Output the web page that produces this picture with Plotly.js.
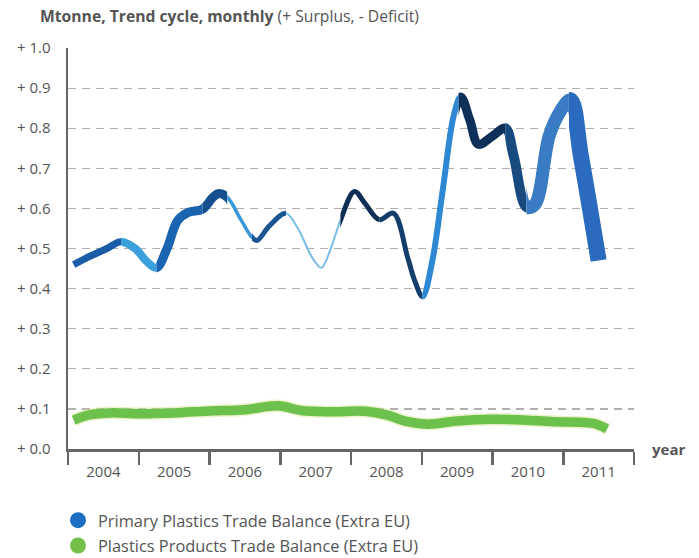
<!DOCTYPE html>
<html>
<head>
<meta charset="utf-8">
<script src="https://cdn.plot.ly/plotly-3.0.1.min.js"></script>
<style>
  html, body { margin: 0; padding: 0; background: #ffffff; }
  #chart { width: 699px; height: 558px; }
</style>
</head>
<body>
<div id="chart"></div>
<script>
// ---- Data ----
const years = ['2004', '2005', '2006', '2007', '2008', '2009', '2010', '2011'];
const yTickValues = [0, 0.1, 0.2, 0.3, 0.4, 0.5, 0.6, 0.7, 0.8, 0.9, 1.0];
const yTickLabels = ['+ 0.0', '+ 0.1', '+ 0.2', '+ 0.3', '+ 0.4', '+ 0.5', '+ 0.6', '+ 0.7', '+ 0.8', '+ 0.9', '+ 1.0'];

const primaryName = 'Primary Plastics Trade Balance (Extra EU)';
const primaryX = [2004.08, 2004.3, 2004.55, 2004.75, 2004.95, 2005.1, 2005.25, 2005.4, 2005.55, 2005.7,
                  2005.9, 2006.05, 2006.13, 2006.25, 2006.45, 2006.6, 2006.67, 2006.85, 2007.08, 2007.25,
                  2007.45, 2007.58, 2007.72, 2007.85, 2008.05, 2008.2, 2008.4, 2008.6, 2008.8, 2008.9,
                  2009.01, 2009.15, 2009.3, 2009.45, 2009.55, 2009.68, 2009.8, 2010.0, 2010.18, 2010.3,
                  2010.48, 2010.6, 2010.8, 2010.95, 2011.1, 2011.25, 2011.5];
const primaryY = [0.46, 0.48, 0.50, 0.517, 0.50, 0.47, 0.452, 0.50, 0.57, 0.59,
                  0.598, 0.628, 0.637, 0.628, 0.57, 0.528, 0.52, 0.557, 0.588, 0.55,
                  0.478, 0.452, 0.503, 0.57, 0.642, 0.612, 0.572, 0.588, 0.478, 0.42,
                  0.38, 0.47, 0.65, 0.83, 0.878, 0.82, 0.76, 0.78, 0.80, 0.73,
                  0.603, 0.61, 0.78, 0.84, 0.87, 0.73, 0.47];

const productsName = 'Plastics Products Trade Balance (Extra EU)';
const productsX = [2004.08, 2004.3, 2004.6, 2005.0, 2005.5, 2006.0, 2006.5, 2006.97, 2007.3, 2007.7,
                   2008.2, 2008.5, 2008.8, 2009.1, 2009.5, 2010.0, 2010.5, 2010.9, 2011.3, 2011.45, 2011.62];
const productsY = [0.072, 0.085, 0.09, 0.088, 0.09, 0.095, 0.098, 0.108, 0.096, 0.093,
                   0.094, 0.085, 0.068, 0.062, 0.07, 0.074, 0.072, 0.068, 0.066, 0.063, 0.05];

// ---- Styling of the twisted blue ribbon: colour / width by x range ----
const ribbonStyle = [
  {x0: 2004.0,  x1: 2004.75, color: '#1a5ca8', width: 7},
  {x0: 2004.75, x1: 2005.25, color: '#3aa0dc', width: 8},
  {x0: 2005.25, x1: 2005.9,  color: '#1b65b0', width: 9},
  {x0: 2005.9,  x1: 2006.25, color: '#164f8e', width: 9},
  {x0: 2006.25, x1: 2006.6,  color: '#3b98d8', width: 3.5},
  {x0: 2006.6,  x1: 2007.08, color: '#1a5690', width: 5},
  {x0: 2007.08, x1: 2007.85, color: '#78bde8', width: 2},
  {x0: 2007.85, x1: 2008.4,  color: '#0e2f55', width: 5},
  {x0: 2008.4,  x1: 2009.01, color: '#133e6c', width: 5},
  {x0: 2009.01, x1: 2009.52, color: '#2e88d4', width: 6},
  {x0: 2009.52, x1: 2010.18, color: '#0e2f58', width: 9},
  {x0: 2010.18, x1: 2010.48, color: '#184a80', width: 10},
  {x0: 2010.48, x1: 2011.08, color: '#3a7cc4', width: 13},
  {x0: 2011.08, x1: 2012.0,  color: '#2a6bbf', width: 16}
];

const X_MIN = 2004, X_MAX = 2012;
const textColor = '#555555';
const fontFam = '"Open Sans", "DejaVu Sans", sans-serif';

const traces = [];

// green band: soft glow + band
traces.push({
  x: productsX, y: productsY, type: 'scatter', mode: 'lines',
  line: {color: 'rgba(215,232,150,0.5)', width: 12.5, shape: 'spline', smoothing: 1, simplify: false},
  showlegend: false, hoverinfo: 'skip'
});
traces.push({
  x: productsX, y: productsY, type: 'scatter', mode: 'lines', name: productsName,
  line: {color: '#6cc04c', width: 9.5, shape: 'spline', smoothing: 1, simplify: false},
  showlegend: false
});

// legend entries (circle markers)
traces.push({
  x: [null], y: [null], type: 'scatter', mode: 'markers', name: primaryName,
  marker: {color: '#1b6ec2', size: 16, symbol: 'circle'}, legendgroup: 'a'
});
traces.push({
  x: [null], y: [null], type: 'scatter', mode: 'markers', name: productsName,
  marker: {color: '#74c049', size: 16, symbol: 'circle'}, legendgroup: 'b'
});

const layout = {
  width: 699, height: 558,
  margin: {l: 68, r: 65, t: 48, b: 109, pad: 0, autoexpand: false},
  paper_bgcolor: '#ffffff', plot_bgcolor: 'rgba(0,0,0,0)',
  font: {family: fontFam, color: textColor, size: 13},
  title: {
    text: '<b>Mtonne, Trend cycle, monthly</b> (+ Surplus, - Deficit)',
    x: 40 / 699, xref: 'container', xanchor: 'left',
    y: 1 - 17 / 558, yref: 'container', yanchor: 'middle',
    font: {family: fontFam, size: 15.7, color: textColor}
  },
  xaxis: {
    range: [X_MIN, X_MAX],
    tickvals: years.map(y => Number(y) + 0.5),
    ticktext: years,
    ticks: '',
    ticklabelstandoff: 7,
    tickfont: {size: 15, color: textColor},
    showgrid: false, zeroline: false,
    showline: true, linecolor: '#666666', linewidth: 2.5,
    minor: {tick0: X_MIN, dtick: 1, ticks: 'outside', ticklen: 13, tickwidth: 2.5, tickcolor: '#666666', showgrid: false},
    fixedrange: true
  },
  yaxis: {
    range: [0, 1.0],
    tickvals: yTickValues,
    ticktext: yTickLabels,
    ticks: '',
    ticklabelstandoff: 12,
    tickfont: {size: 15, color: textColor},
    showgrid: true, gridcolor: '#b0b0b0', gridwidth: 1.2, griddash: '8px,6px',
    zeroline: false,
    showline: true, linecolor: '#666666', linewidth: 2.5,
    fixedrange: true
  },
  yaxis2: {
    domain: [0, 1], range: [0, 1.0], anchor: 'free', position: 0,
    visible: false, showgrid: false, zeroline: false, fixedrange: true
  },
  showlegend: true,
  legend: {
    xref: 'container', yref: 'container',
    x: 58 / 699, xanchor: 'left',
    y: 1 - 503 / 558, yanchor: 'top',
    orientation: 'v',
    font: {family: fontFam, size: 16.4, color: textColor},
    tracegroupgap: 1,
    itemsizing: 'trace',
    bgcolor: 'rgba(0,0,0,0)'
  },
  annotations: [{
    text: '<b>year</b>', showarrow: false,
    xref: 'paper', yref: 'paper', x: (650 - 68) / 566, y: 0,
    xanchor: 'left', yanchor: 'middle',
    font: {family: fontFam, size: 15, color: textColor}
  }]
};

// blue ribbon: the full series drawn once per style band, each band clipped to its own x window
ribbonStyle.forEach((s, k) => {
  const axNum = k + 2;
  const d0 = (s.x0 - X_MIN) / (X_MAX - X_MIN);
  const d1 = (s.x1 - X_MIN) / (X_MAX - X_MIN);
  layout['xaxis' + axNum] = {
    domain: [d0, d1], range: [s.x0, s.x1], anchor: 'y2',
    visible: false, showgrid: false, zeroline: false, fixedrange: true
  };
  traces.push({
    x: primaryX, y: primaryY, type: 'scatter', mode: 'lines', name: primaryName,
    xaxis: 'x' + axNum, yaxis: 'y2',
    line: {color: s.color, width: s.width, shape: 'spline', smoothing: 1, simplify: false},
    showlegend: false, cliponaxis: true
  });
});

Plotly.newPlot('chart', traces, layout, {displayModeBar: false, staticPlot: true});
</script>
</body>
</html>
